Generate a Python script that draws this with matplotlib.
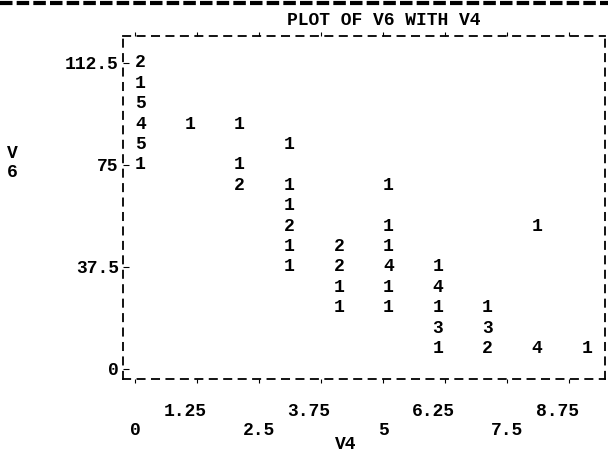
"""
Line-printer style scatter: PLOT OF V6 WITH V4 (digits = number of cases per cell).
"""

import matplotlib
matplotlib.use('Agg')
import matplotlib.pyplot as plt
import matplotlib.transforms as mtransforms
from matplotlib.lines import Line2D

plt.rcParams['font.family'] = ['Liberation Mono', 'DejaVu Sans Mono']
plt.rcParams['font.weight'] = 'bold'

# one entry per printed digit: V4 column, V6 row value, count shown
v4 = [0, 0, 0, 0, 0, 0,
      1,
      2, 2, 2,
      3, 3, 3, 3, 3, 3,
      4, 4, 4, 4,
      5, 5, 5, 5, 5, 5,
      6, 6, 6, 6, 6,
      7, 7, 7,
      8, 8,
      9]
v6 = [112.5, 105, 97.5, 90, 82.5, 75,
      90,
      90, 75, 67.5,
      82.5, 67.5, 60, 52.5, 45, 37.5,
      45, 37.5, 30, 22.5,
      67.5, 52.5, 45, 37.5, 30, 22.5,
      37.5, 30, 22.5, 15, 7.5,
      22.5, 15, 7.5,
      52.5, 7.5,
      7.5]
counts = [2, 1, 5, 4, 5, 1,
          1,
          1, 1, 2,
          1, 1, 1, 2, 1, 1,
          2, 2, 1, 1,
          1, 1, 1, 4, 1, 1,
          1, 4, 1, 3, 1,
          1, 3, 2,
          1, 4,
          1]

x_ticks = [0, 1.25, 2.5, 3.75, 5, 6.25, 7.5, 8.75]
y_ticks = [0, 37.5, 75, 112.5]

FS = 13

fig = plt.figure(figsize=(6.08, 4.54), dpi=100)
ax = fig.add_axes([0.2023, 0.1652, 0.7928, 0.7555])
ax.set_xlim(-0.242, 9.476)
ax.set_ylim(-3.68, 122.4)

for x, y, c in zip(v4, v6, counts):
    ax.text(x, y, str(c), ha='left', va='center', fontsize=FS, fontweight='bold')

for s in ax.spines.values():
    s.set_linestyle((0, (4, 4)))
    s.set_linewidth(1.3)

# staggered x labels like the printout
xlabels = [f"{v:g}" if i % 2 else "\n" + f"{v:g}" for i, v in enumerate(x_ticks)]
ax.set_xticks(x_ticks, xlabels)
ax.set_yticks(y_ticks, [f"{v:g}" for v in y_ticks])
ax.tick_params(axis='x', which='both', top=True, direction='out', length=3,
               pad=14, labelsize=FS)
ax.tick_params(axis='y', direction='in', length=4, pad=3, labelsize=FS)

# upper-row labels sit a bit left of their tick in the printout
shift = mtransforms.ScaledTranslation(-0.12, 0, fig.dpi_scale_trans)
for i, lab in enumerate(ax.get_xticklabels()):
    lab.set_fontweight('bold')
    lab.set_linespacing(1.15)
    if i % 2:
        lab.set_transform(lab.get_transform() + shift)
for lab in ax.get_yticklabels():
    lab.set_fontweight('bold')

ax.set_xlabel('V4', fontsize=FS, fontweight='bold')
ax.xaxis.set_label_coords(0.4627, -0.19)
ax.xaxis.label.set_va('center')
ax.set_ylabel('V\n6', rotation=0, fontsize=FS, fontweight='bold',
              ha='left', va='center', linespacing=1.1)
ax.yaxis.set_label_coords(-0.24, 0.63)

ax.text(0.54, 1.045, 'PLOT OF V6 WITH V4', transform=ax.transAxes,
        ha='center', va='center', fontsize=FS, fontweight='bold')

# page separator along the top edge
fig.add_artist(Line2D([0, 1], [0.994, 0.994], transform=fig.transFigure,
                      color='black', linewidth=3, linestyle=(0, (3, 1))))

fig.savefig('out.png', dpi=100)
